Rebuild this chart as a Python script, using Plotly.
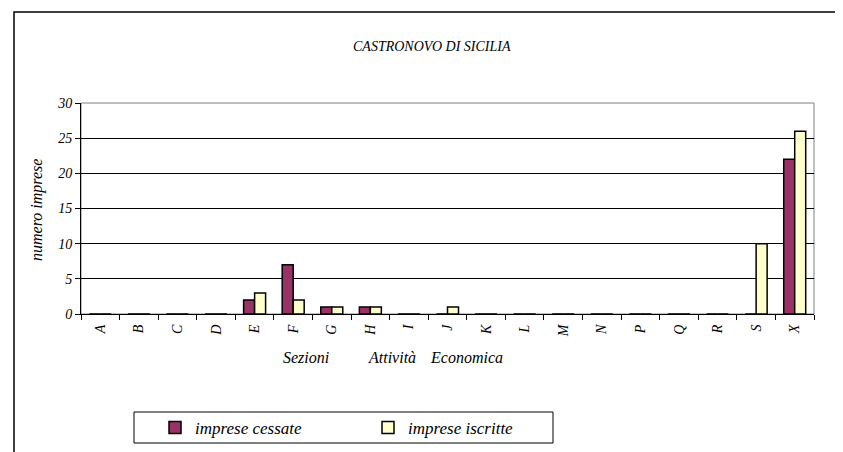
import plotly.graph_objects as go

categories = ["A", "B", "C", "D", "E", "F", "G", "H", "I", "J", "K", "L", "M", "N", "P", "Q", "R", "S", "X"]
cessate = [0, 0, 0, 0, 2, 7, 1, 1, 0, 0, 0, 0, 0, 0, 0, 0, 0, 0, 22]
iscritte = [0, 0, 0, 0, 3, 2, 1, 1, 0, 1, 0, 0, 0, 0, 0, 0, 0, 10, 26]
y_ticks = [0, 5, 10, 15, 20, 25, 30]

OFF = 8  # page body margin
W, H = 843, 452
L, T = 81 - OFF, 103 - OFF
R = W - (814 - OFF)
B = H - (314 - OFF)
pw, ph = W - L - R, H - T - B

def px_x(x):  # page pixel -> paper
    return (x - OFF - L) / pw

def px_y(y):
    return (H - B - (y - OFF)) / ph

def f(size):
    return dict(family="Liberation Serif", style="italic", size=size, color="black")

fig = go.Figure()
fig.add_trace(go.Bar(x=categories, y=cessate, name="imprese cessate",
                     marker=dict(color="#993366", line=dict(color="black", width=1.5))))
fig.add_trace(go.Bar(x=categories, y=iscritte, name="imprese iscritte",
                     marker=dict(color="#FFFFCC", line=dict(color="black", width=1.5))))

fig.update_layout(
    width=W, height=H,
    margin=dict(l=L, r=R, t=T, b=B, pad=0),
    paper_bgcolor="white", plot_bgcolor="white",
    barmode="group", bargap=0.43, bargroupgap=0.0,
    showlegend=True,
    legend=dict(orientation="h", x=px_x(155), y=px_y(428), xanchor="left", yanchor="middle",
                borderwidth=0, bgcolor="rgba(0,0,0,0)", font=f(17),
                itemwidth=30, entrywidth=168, traceorder="normal"),
    xaxis=dict(type="category", tickson="boundaries", ticks="outside", ticklen=5,
               tickcolor="black", tickangle=-90, showline=True, linecolor="black",
               linewidth=1, showgrid=False, tickfont=f(14), ticklabelstandoff=4),
    yaxis=dict(range=[0, 30], tickvals=y_ticks, ticks="outside", ticklen=5,
               tickcolor="black", showline=True, linecolor="black", linewidth=1,
               showgrid=True, gridcolor="black", gridwidth=1, zeroline=False,
               tickfont=f(14)),
)

# grey plot-area frame (top/right)
fig.add_shape(type="rect", xref="paper", yref="paper", x0=0, x1=1, y0=0, y1=1,
              line=dict(color="#808080", width=1), layer="below")
# outer chart border
fig.add_shape(type="rect", xref="paper", yref="paper",
              x0=px_x(14), x1=px_x(838), y0=px_y(480), y1=px_y(12),
              line=dict(color="black", width=1.5))
# legend box
fig.add_shape(type="rect", xref="paper", yref="paper",
              x0=px_x(134), x1=px_x(553), y0=px_y(443), y1=px_y(412),
              line=dict(color="black", width=1), fillcolor="white", layer="below")

def note(text, x, y, size, angle=0):
    fig.add_annotation(text=text, xref="paper", yref="paper", x=px_x(x), y=px_y(y),
                       xanchor="center", yanchor="middle", showarrow=False,
                       textangle=angle, font=f(size))

note("CASTRONOVO DI SICILIA", 432, 47, 14)
note("numero imprese", 37, 210, 16, -90)
note("Sezioni", 306, 357, 16)
note("Attività", 392, 357, 16)
note("Economica", 466, 357, 16)

fig.write_html("out.html")
